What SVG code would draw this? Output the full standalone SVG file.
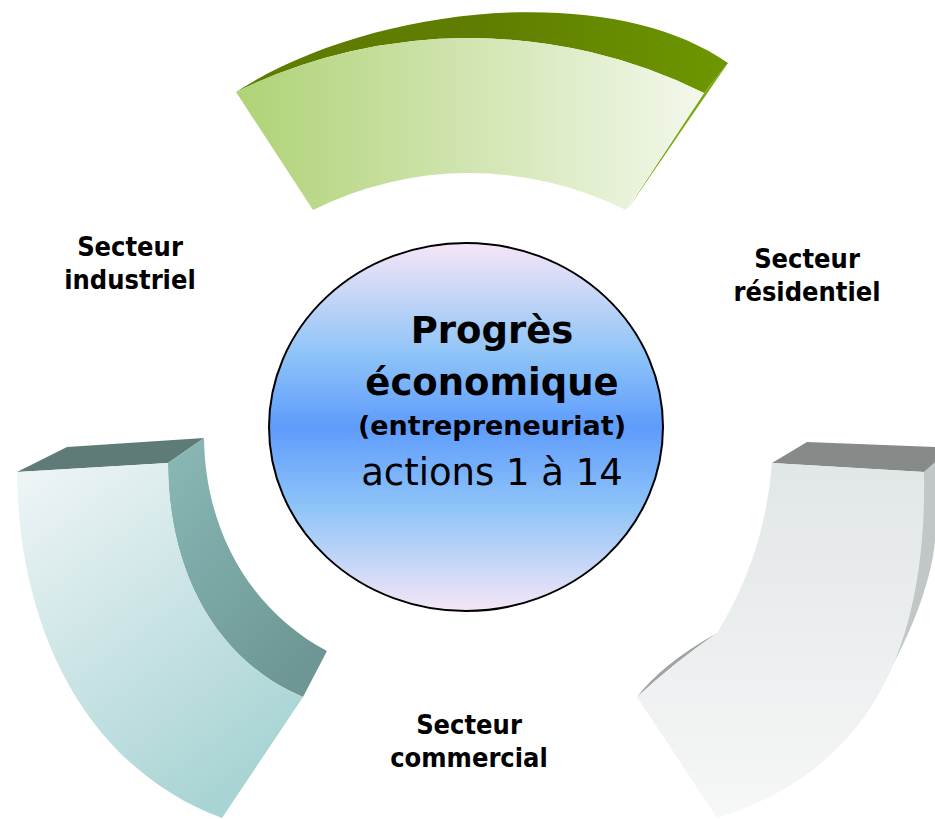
<svg xmlns="http://www.w3.org/2000/svg" width="935" height="819" viewBox="0 0 935 819">
<defs>
<style>
.lbl{font-family:"DejaVu Sans Condensed","DejaVu Sans",Verdana,sans-serif;font-stretch:condensed;font-weight:bold;font-size:27px;fill:#000;text-anchor:middle}
.ctr{font-family:"DejaVu Sans",Verdana,sans-serif;fill:#000;text-anchor:middle}
</style>
<linearGradient id="gFront" x1="0" y1="0" x2="1" y2="0">
<stop offset="0" stop-color="#afd276"/><stop offset="1" stop-color="#f3f8ec"/>
</linearGradient>
<linearGradient id="gTop" x1="0" y1="0" x2="1" y2="0">
<stop offset="0" stop-color="#5d7c00"/><stop offset="0.5" stop-color="#5f7d00"/><stop offset="1" stop-color="#6d9700"/>
</linearGradient>
<linearGradient id="tFront" x1="0" y1="0" x2="0.6" y2="1">
<stop offset="0" stop-color="#f0f5f7"/><stop offset="1" stop-color="#a9d4d4"/>
</linearGradient>
<linearGradient id="tSide" x1="0" y1="0" x2="0.7" y2="1">
<stop offset="0" stop-color="#89b9b6"/><stop offset="1" stop-color="#6d9694"/>
</linearGradient>
<linearGradient id="rFront" x1="0" y1="0" x2="0" y2="1">
<stop offset="0" stop-color="#e1e6e7"/><stop offset="1" stop-color="#f6f7f7"/>
</linearGradient>
<linearGradient id="ell" x1="0" y1="0" x2="0" y2="1">
<stop offset="0" stop-color="#f6e6f6"/>
<stop offset="0.3" stop-color="#8fc4f8"/>
<stop offset="0.5" stop-color="#5e9cfc"/>
<stop offset="0.72" stop-color="#8fc4f8"/>
<stop offset="1" stop-color="#f6e6f6"/>
</linearGradient>
</defs>

<g id="segment-top">
<path d="M236 92 C370 5 610 -20 728 63 L704 93 A530 530 0 0 0 236 92 Z" fill="url(#gTop)"/>
<path d="M704 93 L728 63 L627 210 Z" fill="#78a80a"/>
<path d="M236 92 A530 530 0 0 1 704 93 L626 210 A350 350 0 0 0 313 210 Z" fill="url(#gFront)"/>
</g>

<g id="segment-left">
<path d="M17 472 L67 447 L204 438 L168 463 Z" fill="#5e7b78"/>
<path d="M204 438 C205 530 250 610 327 651 L303 697 C215 660 168 570 168 463 Z" fill="url(#tSide)"/>
<path d="M17 472 C18 620 80 765 222 818 L303 697 C215 660 168 570 168 463 Z" fill="url(#tFront)"/>
</g>

<g id="segment-right">
<path d="M772 463 L807 442 L935 447 L935 463 L924 472 Z" fill="#868a89"/>
<path d="M924 472 L935 462 L935 540 C932 580 910 640 875 695 L860 700 Z" fill="#c1c6c6"/>
<path d="M637 697 Q662 664 717 633 Q675 662 637 697 Z" fill="#9ea4a3"/>
<path d="M772 463 L924 472 C927 650 870 770 717 818 L637 697 Q675 662 717 633 A380 380 0 0 0 772 463 Z" fill="url(#rFront)"/>
</g>

<g id="center">
<ellipse cx="466" cy="427" rx="197" ry="184" fill="url(#ell)" stroke="#000" stroke-width="2"/>
<text class="ctr" x="492" y="343" font-size="37" font-weight="bold">Progrès</text>
<text class="ctr" x="492" y="395" font-size="37" font-weight="bold">économique</text>
<text class="ctr" x="492" y="435" font-size="27" font-weight="bold">(entrepreneuriat)</text>
<text class="ctr" x="492" y="485" font-size="37">actions 1 à 14</text>
</g>

<g id="label-industriel">
<text class="lbl" x="130" y="256">Secteur</text>
<text class="lbl" x="130" y="289">industriel</text>
</g>
<g id="label-residentiel">
<text class="lbl" x="807" y="268">Secteur</text>
<text class="lbl" x="807" y="301">résidentiel</text>
</g>
<g id="label-commercial">
<text class="lbl" x="469" y="734">Secteur</text>
<text class="lbl" x="469" y="767">commercial</text>
</g>
<g id="connectors"/>
</svg>
